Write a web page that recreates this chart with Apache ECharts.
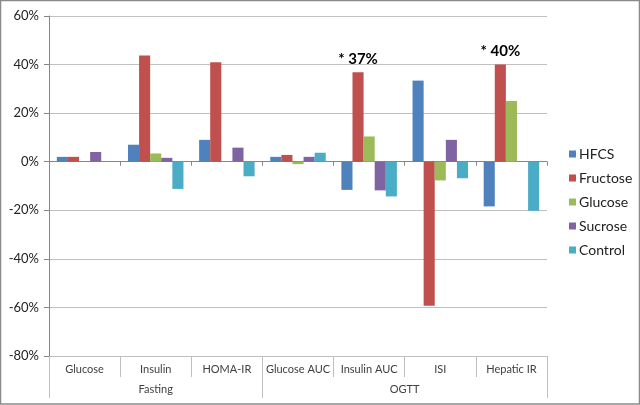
<!DOCTYPE html>
<html>
<head>
<meta charset="utf-8">
<script src="https://cdn.jsdelivr.net/npm/echarts@6/dist/echarts.min.js"></script>
<style>
  html, body { margin: 0; padding: 0; background: #fff; }
  #chart { width: 640px; height: 405px; }
</style>
</head>
<body>
<div id="chart"></div>
<script>
// categories and groups (two-level axis)
var categories = ['Glucose', 'Insulin', 'HOMA-IR', 'Glucose AUC', 'Insulin AUC', 'ISI', 'Hepatic IR'];
var groups = ['Fasting', 'OGTT'];
var groupSpans = [3, 4];

// % change per series
var seriesNames = ['HFCS', 'Fructose', 'Glucose', 'Sucrose', 'Control'];
var hfcs     = [2,   7,    9,   2,   -11.6, 33.4, -18.4];
var fructose = [2,   43.7, 41,  2.8,  36.8, -59.3, 40];
var glucose  = [0,   3.4,  0,   -1,   10.4, -7.7, 25];
var sucrose  = [4,   1.6,  5.8, 2,   -11.8, 9,    0];
var control  = [0,  -11.2, -6,  3.7, -14.3, -6.8, -20.2];

// text written above the fructose bars
var notes = { 'Insulin AUC': '* 37%', 'Hepatic IR': '* 40%' };

var colors = ['#4F81BD', '#C0504D', '#9BBB59', '#8064A2', '#4BACC6'];
var font = 'Lato, "Open Sans", sans-serif';

// group axis: 2 points per category, labels in the middle of each span
var groupData = [];
for (var i = 0; i <= categories.length * 2; i++) groupData.push('');
var groupTicks = [0];
var start = 0;
for (var g = 0; g < groups.length; g++) {
    groupData[start * 2 + groupSpans[g]] = groups[g];
    start += groupSpans[g];
    groupTicks.push(start * 2);
}

var fructoseData = fructose.map(function (v, idx) {
    var txt = notes[categories[idx]];
    if (!txt) return v;
    return {
        value: v,
        label: {
            show: true, position: 'top', distance: 6, formatter: txt,
            fontSize: 15, fontWeight: 'bold', color: '#000', fontFamily: font
        }
    };
});

var allData = [hfcs, fructoseData, glucose, sucrose, control];

var myChart = echarts.init(document.getElementById('chart'));
var option = {
    backgroundColor: '#fff',
    animation: false,
    color: colors,
    textStyle: { fontFamily: font },
    graphic: [{
        type: 'rect',
        shape: { x: 0.5, y: 0.5, width: 639, height: 403.5 },
        style: { fill: 'none', stroke: '#8a8a8a', lineWidth: 1.5 },
        silent: true
    }],
    grid: { left: 49, right: 93, top: 16, bottom: 49 },
    legend: {
        orient: 'vertical',
        left: 564,
        top: 142,
        itemWidth: 7,
        itemHeight: 7,
        itemGap: 10,
        icon: 'rect',
        data: seriesNames,
        textStyle: { fontSize: 14, color: '#222', fontFamily: font, padding: [0, 0, 0, -2] }
    },
    xAxis: [{
        type: 'category',
        data: categories,
        position: 'bottom',
        axisLine: { onZero: true, lineStyle: { color: '#868686' } },
        axisTick: { show: true, length: 4, interval: 0, lineStyle: { color: '#868686' } },
        axisLabel: { show: false },
        splitLine: { show: false }
    }, {
        type: 'category',
        data: categories,
        position: 'bottom',
        axisLine: { onZero: false, lineStyle: { color: '#bfbfbf' } },
        axisTick: { show: true, length: 21, interval: 0, lineStyle: { color: '#bfbfbf' } },
        axisLabel: { interval: 0, margin: 8, fontSize: 11, color: '#404040', fontFamily: font },
        splitLine: { show: false }
    }, {
        type: 'category',
        data: groupData,
        boundaryGap: false,
        position: 'bottom',
        axisLine: { show: false, onZero: false },
        axisTick: {
            show: true, length: 42,
            interval: function (idx) { return groupTicks.indexOf(idx) >= 0; },
            lineStyle: { color: '#bfbfbf' }
        },
        axisLabel: { interval: 0, margin: 28, fontSize: 11, color: '#404040', fontFamily: font },
        splitLine: { show: false }
    }],
    yAxis: {
        type: 'value',
        min: -80,
        max: 60,
        interval: 20,
        axisLine: { show: true, lineStyle: { color: '#868686' } },
        axisTick: { show: true, length: 5, lineStyle: { color: '#868686' } },
        axisLabel: { formatter: '{value}%', fontSize: 13, color: '#222', margin: 10, fontFamily: font },
        splitLine: { lineStyle: { color: '#c0c0c0' } }
    },
    series: seriesNames.map(function (name, k) {
        return {
            name: name,
            type: 'bar',
            xAxisIndex: 0,
            barGap: '0%',
            barCategoryGap: '22%',
            data: allData[k]
        };
    })
};
myChart.setOption(option);
</script>
</body>
</html>
